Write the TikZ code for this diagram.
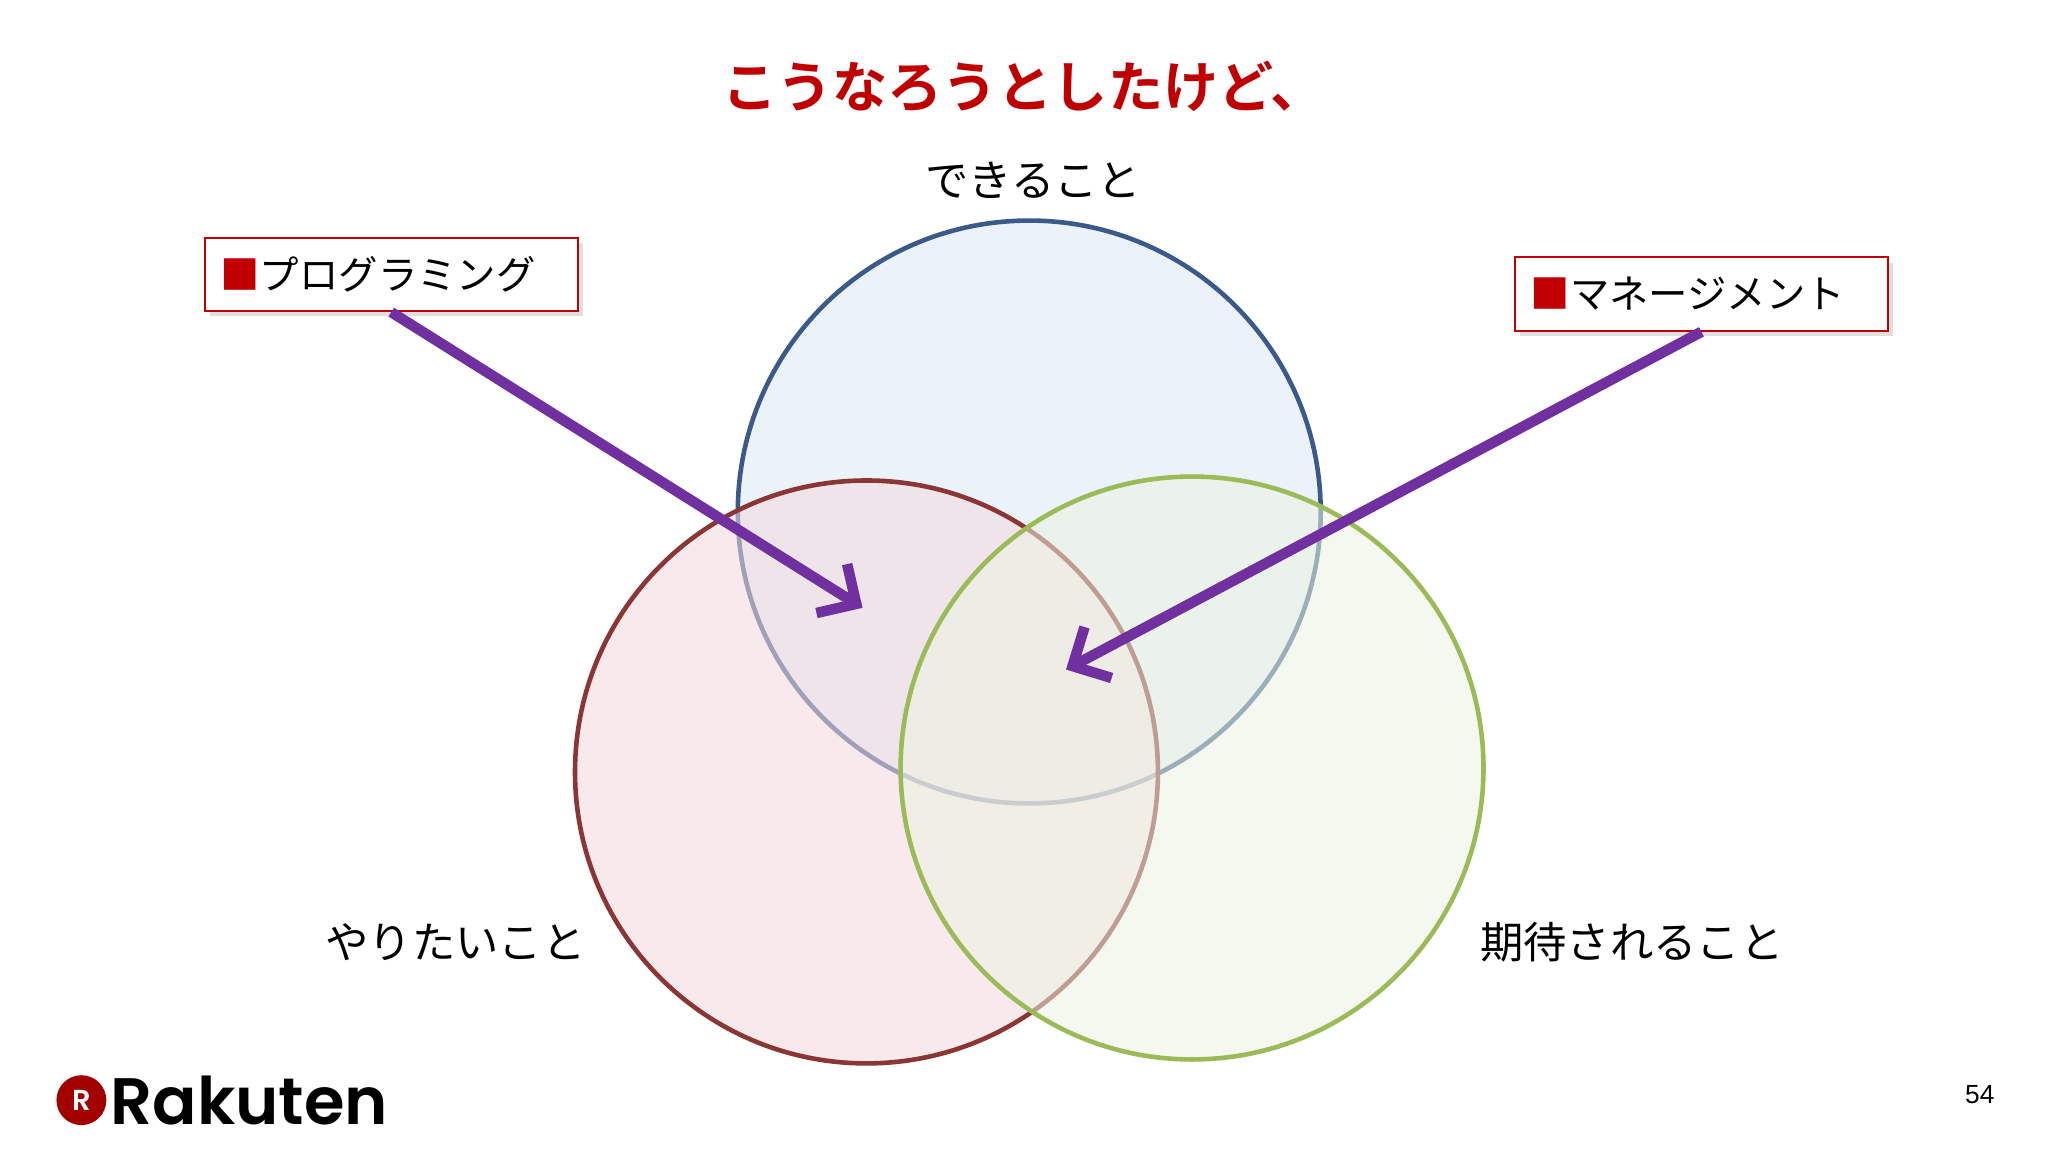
\documentclass[tikz,border=0pt]{standalone}
\usepackage{fontspec}
\setmainfont{Liberation Sans}
\newfontfamily\jp{Noto Sans CJK JP}
\newfontfamily\jpb{Noto Sans CJK JP Bold}
\newfontfamily\logo{Poppins SemiBold}
\usetikzlibrary{arrows.meta,shadows}
\definecolor{ttlred}{HTML}{C00000}
\definecolor{arw}{HTML}{7030A0}
\definecolor{cblue}{HTML}{3B5A8A}
\definecolor{cred}{HTML}{8B3535}
\definecolor{cgreen}{HTML}{9BBB59}
\begin{document}
\begin{tikzpicture}[x=1pt,y=-1pt,
  lbl/.style={font=\jp\fontsize{33}{36}\selectfont,inner sep=0},
  venn/.style={line width=3.5pt},
  tagbox/.style={draw=ttlred,line width=1.5pt,fill=white,minimum width=284pt,minimum height=56pt,
     drop shadow={shadow xshift=4pt,shadow yshift=-4pt,opacity=0.25},
     font=\jp\fontsize{30}{32}\selectfont,text width=260pt,align=left},
  arrowline/.style={draw=arw,line width=8pt,-{Straight Barb[length=22pt,width=44pt,line width=8pt]}}]
\useasboundingbox (0,0) rectangle (1560,878);
\fill[white] (0,0) rectangle (1560,878);
\node[font=\jpb\fontsize{42}{44}\selectfont,text=ttlred] (title) at (780,66) {こうなろうとしたけど、};
\node[lbl] (can) at (787,137) {できること};
\node[lbl] (want) at (347,718) {やりたいこと};
\node[lbl] (exp) at (1243,718) {期待されること};
\path[venn,draw=cblue,fill={rgb,255:red,220;green,232;blue,246},fill opacity=0.55] (784,390) circle (222);
\path[venn,draw=cred,fill={rgb,255:red,244;green,218;blue,222},fill opacity=0.55] (660,588) circle (222);
\path[venn,draw=cgreen,fill={rgb,255:red,236;green,243;blue,226},fill opacity=0.55] (908,585) circle (222);
\node[tagbox] (prog) at (298,209) {{\color{ttlred}■}プログラミング};
\node[tagbox] (mgmt) at (1296,224) {{\color{ttlred}■}マネージメント};
\coordinate (t1) at (657,463);
\coordinate (t2) at (812,510);
\draw[arrowline] (prog.south) ++(0,0) -- (t1);
\draw[arrowline] (mgmt.south) -- (t2);
\node[font=\fontsize{20}{22}\selectfont] (pg) at (1508,834) {54};
\node[circle,fill=ttlred!85!black,minimum size=38pt,inner sep=0,text=white,font=\logo\fontsize{22}{22}\selectfont] (rlogo) at (62,838) {R};
\node[anchor=west,font=\logo\fontsize{50}{50}\selectfont,inner sep=0] (rtext) at (84,838) {Rakuten};
\end{tikzpicture}
\end{document}
